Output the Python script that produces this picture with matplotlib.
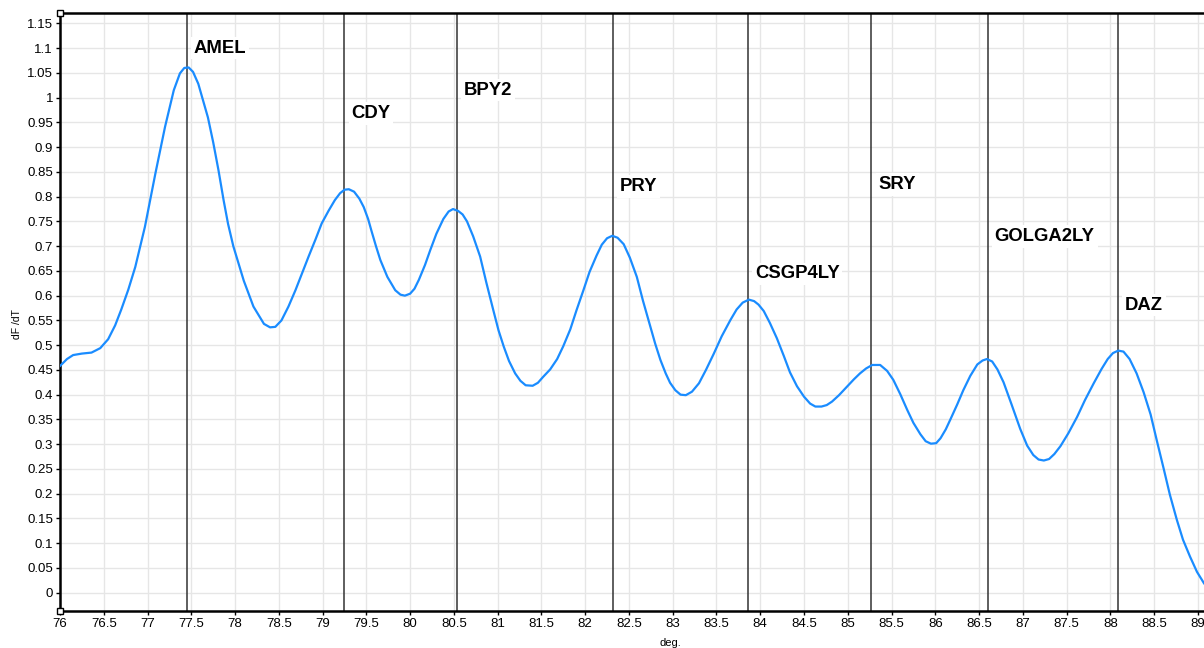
import matplotlib
matplotlib.use("Agg")
import matplotlib.pyplot as plt
import numpy as np

plt.rcParams['font.family'] = ['Liberation Sans', 'DejaVu Sans']

# Melt-curve derivative trace (temperature in degrees, dF/dT)
temps = [76.00, 76.08, 76.15, 76.25, 76.36, 76.46, 76.55, 76.63, 76.70, 76.78,
         76.86, 76.97, 77.09, 77.20, 77.30, 77.37, 77.42, 77.47, 77.52, 77.58,
         77.69, 77.75, 77.81, 77.87, 77.92, 77.98, 78.04, 78.10, 78.21, 78.33,
         78.40, 78.46, 78.53, 78.61, 78.69, 78.76, 78.84, 78.92, 78.99, 79.07,
         79.14, 79.20, 79.25, 79.30, 79.36, 79.42, 79.47, 79.52, 79.56, 79.61,
         79.66, 79.74, 79.83, 79.89, 79.94, 80.00, 80.05, 80.10, 80.17, 80.23,
         80.30, 80.38, 80.44, 80.49, 80.55, 80.60, 80.65, 80.72, 80.80, 80.87,
         80.95, 81.01, 81.07, 81.13, 81.20, 81.26, 81.32, 81.40, 81.46, 81.52,
         81.60, 81.68, 81.75, 81.83, 81.90, 81.98, 82.05, 82.13, 82.19, 82.25,
         82.31, 82.37, 82.44, 82.51, 82.59, 82.66, 82.74, 82.80, 82.86, 82.92,
         82.97, 83.03, 83.09, 83.15, 83.22, 83.30, 83.38, 83.47, 83.56, 83.66,
         83.73, 83.80, 83.87, 83.93, 83.98, 84.04, 84.11, 84.19, 84.27, 84.34,
         84.42, 84.50, 84.57, 84.63, 84.70, 84.76, 84.82, 84.90, 84.99, 85.07,
         85.14, 85.21, 85.28, 85.37, 85.45, 85.52, 85.60, 85.68, 85.75, 85.83,
         85.89, 85.95, 86.01, 86.06, 86.12, 86.17, 86.25, 86.32, 86.40, 86.48,
         86.54, 86.59, 86.65, 86.71, 86.78, 86.87, 86.97, 87.05, 87.12, 87.18,
         87.24, 87.30, 87.36, 87.43, 87.52, 87.62, 87.71, 87.81, 87.90, 87.97,
         88.03, 88.09, 88.15, 88.22, 88.30, 88.38, 88.46, 88.53, 88.61, 88.68,
         88.76, 88.83, 88.91, 88.99, 89.07]
dfdt = [0.458, 0.472, 0.480, 0.483, 0.485, 0.494, 0.512, 0.540, 0.572, 0.612,
        0.658, 0.739, 0.847, 0.941, 1.015, 1.049, 1.060, 1.061, 1.052, 1.028,
        0.960, 0.910, 0.854, 0.792, 0.745, 0.700, 0.665, 0.630, 0.578, 0.543,
        0.536, 0.537, 0.550, 0.578, 0.611, 0.643, 0.679, 0.714, 0.746, 0.772,
        0.793, 0.807, 0.814, 0.815, 0.810, 0.796, 0.779, 0.755, 0.730, 0.700,
        0.672, 0.638, 0.611, 0.602, 0.600, 0.604, 0.614, 0.632, 0.662, 0.692,
        0.725, 0.755, 0.770, 0.775, 0.771, 0.764, 0.750, 0.720, 0.679, 0.627,
        0.571, 0.530, 0.497, 0.468, 0.443, 0.428, 0.419, 0.418, 0.424, 0.436,
        0.451, 0.472, 0.498, 0.532, 0.570, 0.611, 0.648, 0.681, 0.703, 0.716,
        0.721, 0.717, 0.704, 0.677, 0.638, 0.590, 0.540, 0.503, 0.470, 0.443,
        0.424, 0.409, 0.400, 0.399, 0.406, 0.423, 0.450, 0.483, 0.518, 0.551,
        0.572, 0.586, 0.592, 0.589, 0.582, 0.569, 0.545, 0.514, 0.478, 0.445,
        0.417, 0.396, 0.382, 0.376, 0.376, 0.379, 0.386, 0.399, 0.416, 0.431,
        0.443, 0.453, 0.460, 0.460, 0.448, 0.430, 0.401, 0.369, 0.343, 0.320,
        0.306, 0.301, 0.302, 0.312, 0.330, 0.349, 0.380, 0.409, 0.438, 0.461,
        0.469, 0.472, 0.467, 0.451, 0.425, 0.381, 0.331, 0.297, 0.278, 0.269,
        0.267, 0.270, 0.280, 0.296, 0.322, 0.355, 0.389, 0.423, 0.452, 0.472,
        0.484, 0.489, 0.487, 0.472, 0.443, 0.405, 0.360, 0.308, 0.250, 0.198,
        0.147, 0.107, 0.073, 0.042, 0.019]

# Marker positions and label heights
markers = ["AMEL", "CDY", "BPY2", "PRY", "CSGP4LY", "SRY", "GOLGA2LY", "DAZ"]
marker_temps = [77.45, 79.25, 80.53, 82.32, 83.86, 85.27, 86.60, 88.09]
label_heights = [1.100, 0.968, 1.015, 0.820, 0.644, 0.825, 0.720, 0.581]

W, H = 1204, 648
fig = plt.figure(figsize=(W / 100, H / 100), dpi=100)
ax = fig.add_axes([60 / W, (H - 611) / H, (W - 60) / W, (611 - 13) / H])

ax.set_xlim(76, 89.07)
ax.set_ylim(-0.037, 1.171)

xt = np.arange(76, 89.01, 0.5)
yt = np.round(np.arange(0, 1.151, 0.05), 2)
ax.set_xticks(xt)
ax.set_xticklabels([f"{v:g}" for v in xt])
ax.set_yticks(yt)
ax.set_yticklabels([f"{v:g}" for v in yt])

ax.grid(True, color="#e6e6e6", linewidth=1.0)
ax.set_axisbelow(True)

for side in ("left", "bottom", "top"):
    ax.spines[side].set_linewidth(1.8)
    ax.spines[side].set_color("black")
ax.spines["right"].set_visible(False)

ax.tick_params(axis="both", direction="out", length=3, width=1,
               labelsize=9.5, colors="black", pad=2)

for name, t, h in zip(markers, marker_temps, label_heights):
    ax.axvline(t, color="#333333", linewidth=1.1, zorder=2)
    ax.annotate(name, xy=(t, h), xytext=(5, 0), textcoords="offset points",
                ha="left", va="center", fontsize=13.3, fontweight="bold",
                color="black", zorder=4,
                bbox=dict(boxstyle="square,pad=0.15", fc="white", ec="none"))

ax.plot(temps, dfdt, color="#1a8cff", linewidth=1.6, zorder=3,
        solid_joinstyle="round")

# Corner handles on the left spine
ax.plot([0, 0], [0, 1], transform=ax.transAxes, linestyle="none",
        marker="s", markersize=5, markerfacecolor="white",
        markeredgecolor="black", markeredgewidth=1.0, clip_on=False, zorder=5)

fig.text(17 / W, 0.5, "dF /dT", rotation=90, ha="center", va="center",
         fontsize=7.5)
fig.text(670 / W, (H - 643) / H, "deg.", ha="center", va="center",
         fontsize=8)

fig.savefig("out.png", dpi=100)
